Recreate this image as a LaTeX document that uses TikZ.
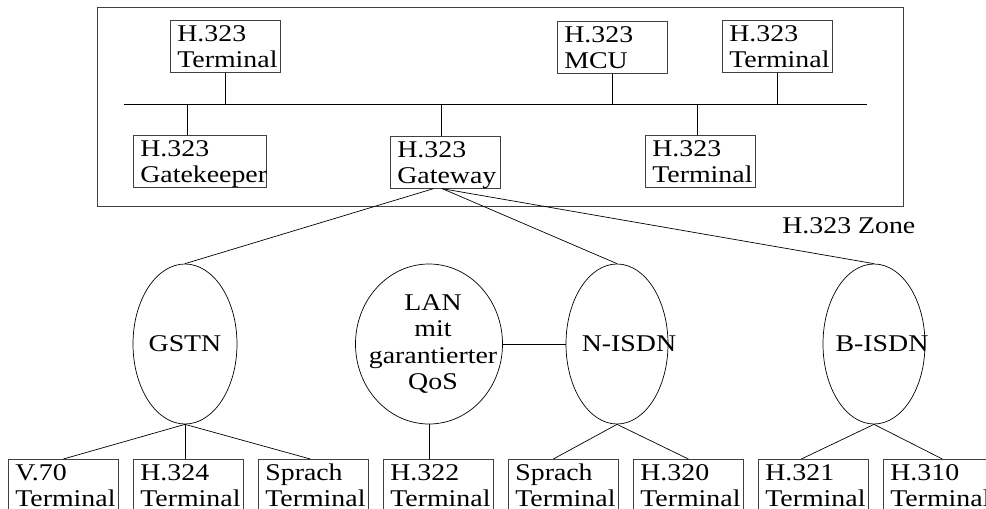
\documentclass[tikz,border=0pt]{standalone}
\usepackage{fontspec}
\setmainfont{Liberation Serif}[FakeStretch=1.16]
\usetikzlibrary{shapes.geometric}

\begin{document}
\begin{tikzpicture}[x=1pt,y=-1pt,line width=0.7pt,
  font=\fontsize{24}{26.6}\selectfont,
  dev/.style={draw=black!75,anchor=north west,align=left,text width=96pt,
    inner xsep=7pt,inner ysep=5pt,text height=16pt,text depth=26pt},
  net/.style={draw,ellipse,minimum height=160pt,inner sep=0pt}]
\useasboundingbox (0,0) rectangle (986,509);
\clip (0,0) rectangle (986,509);
% H.323 zone
\draw[draw=black!75] (97,7) rectangle (903,206);
\node[anchor=base west,inner sep=0pt] (zone) at (782,233) {H.323 Zone};
\coordinate (busL) at (124,104);
\coordinate (busR) at (867,104);
\draw (busL) -- (busR);
\node[dev] (t1) at (170,20) {H.323\\Terminal};
\node[dev] (mcu) at (557,21) {H.323\\MCU};
\node[dev] (t2) at (722,20) {H.323\\Terminal};
\node[dev,text width=119pt] (gk) at (133,135) {H.323\\Gatekeeper};
\node[dev] (gw) at (390,136) {H.323\\Gateway};
\node[dev] (t3) at (645,135) {H.323\\Terminal};
\draw (t1.south) -- (t1.south |- busL);
\draw (mcu.south) -- (mcu.south |- busL);
\draw (t2.south) -- (t2.south |- busL);
\draw ([xshift=-13pt]gk.north) -- ([xshift=-13pt]gk.north |- busL);
\draw ([xshift=-4pt]gw.north) -- ([xshift=-4pt]gw.north |- busL);
\draw ([xshift=-3pt]t3.north) -- ([xshift=-3pt]t3.north |- busL);
% networks
\node[net,minimum width=104pt,label=center:GSTN] (gstn) at (185,344) {};
\node[net,minimum width=147pt,
  label={[align=center,xshift=4pt]center:LAN\\mit\\garantierter\\QoS}] (lan) at (429,344) {};
\node[net,minimum width=102pt,label={[xshift=12pt]center:N-ISDN}] (nisdn) at (617,344) {};
\node[net,minimum width=102pt,label={[xshift=8pt]center:B-ISDN}] (bisdn) at (874,344) {};
\draw ([xshift=-12pt]gw.south) -- (gstn.north);
\draw ([xshift=-3pt]gw.south) -- (nisdn.north);
\draw ([xshift=-3pt]gw.south) -- (bisdn.north);
\draw (lan.east) -- (nisdn.west);
% terminals
\foreach \n/\a [count=\i from 0] in {v70/V.70,h324/H.324,sp1/Sprach,h322/H.322,
    sp2/Sprach,h320/H.320,h321/H.321,h310/H.310}
  \node[dev] (\n) at (8+125*\i,459) {\a\\Terminal};
\draw (gstn.south) -- (v70.north);
\draw (gstn.south) -- (gstn.south |- h324.north);
\draw (gstn.south) -- ([xshift=-3pt]sp1.north);
\draw (lan.south) -- (lan.south |- h322.north);
\draw (nisdn.south) -- ([xshift=-10pt]sp2.north);
\draw (nisdn.south) -- (h320.north);
\draw (bisdn.south) -- ([xshift=-12pt]h321.north);
\draw (bisdn.south) -- ([xshift=4pt]h310.north);
\end{tikzpicture}
\end{document}
